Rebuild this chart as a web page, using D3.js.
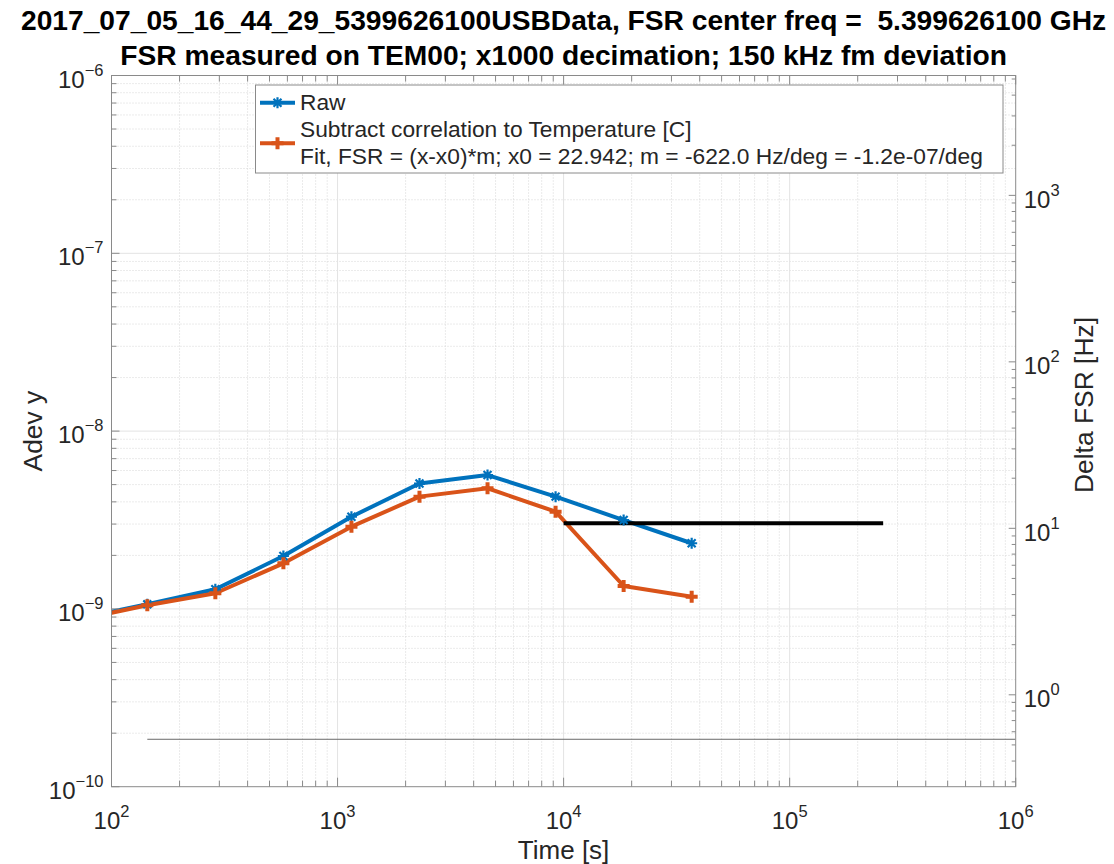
<!DOCTYPE html>
<html><head><meta charset="utf-8">
<script src="https://cdn.jsdelivr.net/npm/d3@7/dist/d3.min.js"></script>
<style>
html,body{margin:0;padding:0;background:#fff;}
svg{display:block;font-family:"Liberation Sans",Arial,Helvetica,sans-serif;}
text{white-space:pre;}
</style></head>
<body><svg id="c" width="1114" height="864"></svg>
<script>
// ---- data ----
const tau = [72, 144, 288, 576, 1152, 2304, 4608, 9216, 18432, 36864];
const rawAdev = [8.83e-10, 1.061e-9, 1.289e-9, 1.984e-9, 3.30e-9, 5.07e-9, 5.66e-9, 4.28e-9, 3.16e-9, 2.34e-9];
const corrAdev = [8.71e-10, 1.048e-9, 1.224e-9, 1.805e-9, 2.90e-9, 4.28e-9, 4.77e-9, 3.52e-9, 1.345e-9, 1.171e-9];
const specX = [1e4, 2.592e5];
const specY = [3.03e-9, 3.03e-9];
const floorX = [144, 1e6];
const floorY = [1.848e-10, 1.848e-10];
const xTickExp = [2, 3, 4, 5, 6];
const yTickExp = [-10, -9, -8, -7, -6];
const yRTickExp = [0, 1, 2, 3];
const titleLines = ["2017_07_05_16_44_29_5399626100USBData, FSR center freq =  5.399626100 GHz",
                    "FSR measured on TEM00; x1000 decimation; 150 kHz fm deviation"];
const legendLabels = ["Raw", "Subtract correlation to Temperature [C]",
                      "Fit, FSR = (x-x0)*m; x0 = 22.942; m = -622.0 Hz/deg = -1.2e-07/deg"];

// ---- layout ----
const L = 111.5, R = 1015.7, T = 75.5, B = 786.7;
const svg = d3.select("#c");
const x = d3.scaleLog().domain([1e2, 1e6]).range([L, R]);
const y = d3.scaleLog().domain([1e-10, 1e-6]).range([B, T]);
const yR = d3.scaleLog().domain([Math.pow(10, -0.552), Math.pow(10, 3.72)]).range([B, T]);
const blue = "#0072BD", orange = "#D95319", axisCol = "#8a8a8a", txt = "#262626";

function minors(lo, hi) {
  const out = [];
  for (let e = Math.floor(Math.log10(lo)) - 1; e <= Math.ceil(Math.log10(hi)); e++)
    for (let m = 2; m <= 9; m++) { const v = m * Math.pow(10, e); if (v > lo * 1.0001 && v < hi * 0.9999) out.push(v); }
  return out;
}
const xMin = minors(1e2, 1e6), yMin = minors(1e-10, 1e-6), yRMin = minors(yR.domain()[0], yR.domain()[1]);
const xMaj = xTickExp.map(e => Math.pow(10, e)), yMaj = yTickExp.map(e => Math.pow(10, e));
const yRMaj = yRTickExp.map(e => Math.pow(10, e));

// grid
const g = svg.append("g");
g.selectAll(".xm").data(xMin).join("line").attr("x1", d => x(d)).attr("x2", d => x(d)).attr("y1", T).attr("y2", B)
  .attr("stroke", "#d6d6d6").attr("stroke-width", 1).attr("stroke-dasharray", "1,2");
g.selectAll(".ym").data(yMin).join("line").attr("y1", d => y(d)).attr("y2", d => y(d)).attr("x1", L).attr("x2", R)
  .attr("stroke", "#d6d6d6").attr("stroke-width", 1).attr("stroke-dasharray", "1,2");
g.selectAll(".xM").data(xMaj.slice(1, -1)).join("line").attr("x1", d => x(d)).attr("x2", d => x(d)).attr("y1", T).attr("y2", B)
  .attr("stroke", "#e3e3e3").attr("stroke-width", 1);
g.selectAll(".yM").data(yMaj.slice(1, -1)).join("line").attr("y1", d => y(d)).attr("y2", d => y(d)).attr("x1", L).attr("x2", R)
  .attr("stroke", "#e3e3e3").attr("stroke-width", 1);

// clip
svg.append("clipPath").attr("id", "clip").append("rect").attr("x", L).attr("y", T).attr("width", R - L).attr("height", B - T);
const plot = svg.append("g").attr("clip-path", "url(#clip)");
const line = d3.line().x(d => x(d[0])).y(d => y(d[1]));

plot.append("path").datum(d3.zip(floorX, floorY)).attr("d", line).attr("fill", "none").attr("stroke", "#6a6a6a").attr("stroke-width", 1);
plot.append("path").datum(d3.zip(tau, rawAdev)).attr("d", line).attr("fill", "none").attr("stroke", blue).attr("stroke-width", 4).attr("stroke-linejoin", "round");
plot.append("path").datum(d3.zip(tau, corrAdev)).attr("d", line).attr("fill", "none").attr("stroke", orange).attr("stroke-width", 4).attr("stroke-linejoin", "round");
plot.append("path").datum(d3.zip(specX, specY)).attr("d", line).attr("fill", "none").attr("stroke", "#000").attr("stroke-width", 4);

function star(s) { const h = s / 2, d = h * 0.72; return `M${-h},0H${h}M0,${-h}V${h}M${-d},${-d}L${d},${d}M${-d},${d}L${d},${-d}`; }
function plus(s) { const h = s / 2; return `M${-h},0H${h}M0,${-h}V${h}`; }
plot.selectAll(".mb").data(d3.zip(tau, rawAdev)).join("path").attr("transform", d => `translate(${x(d[0])},${y(d[1])})`)
  .attr("d", star(11)).attr("stroke", blue).attr("stroke-width", 2.2).attr("fill", "none");
plot.selectAll(".mo").data(d3.zip(tau, corrAdev)).join("path").attr("transform", d => `translate(${x(d[0])},${y(d[1])})`)
  .attr("d", plus(12)).attr("stroke", orange).attr("stroke-width", 4).attr("fill", "none");

// axes box & ticks
const ax = svg.append("g").attr("stroke", axisCol).attr("stroke-width", 1).attr("fill", "none");
ax.append("rect").attr("x", L).attr("y", T).attr("width", R - L).attr("height", B - T);
function tickX(vals, len) {
  ax.selectAll(null).data(vals).join("line").attr("x1", d => x(d)).attr("x2", d => x(d)).attr("y1", B).attr("y2", B - len);
  ax.selectAll(null).data(vals).join("line").attr("x1", d => x(d)).attr("x2", d => x(d)).attr("y1", T).attr("y2", T + len);
}
tickX(xMaj, 9); tickX(xMin, 6);
ax.selectAll(null).data(yMaj).join("line").attr("y1", d => y(d)).attr("y2", d => y(d)).attr("x1", L).attr("x2", L + 8);
ax.selectAll(null).data(yMin).join("line").attr("y1", d => y(d)).attr("y2", d => y(d)).attr("x1", L).attr("x2", L + 5);
ax.selectAll(null).data(yRMaj).join("line").attr("y1", d => yR(d)).attr("y2", d => yR(d)).attr("x1", R).attr("x2", R - 7);
ax.selectAll(null).data(yRMin).join("line").attr("y1", d => yR(d)).attr("y2", d => yR(d)).attr("x1", R).attr("x2", R - 4);

// tick labels
function powLabel(sel, e) {
  sel.append("tspan").attr("font-size", 24).text("10");
  sel.append("tspan").attr("font-size", 16.5).attr("dy", -12).text(String(e).replace("-", "\u2212"));
}
const tl = svg.append("g").attr("fill", txt);
xTickExp.forEach(e => { const t = tl.append("text").attr("x", x(Math.pow(10, e))).attr("y", 829).attr("text-anchor", "middle"); powLabel(t, e); });
yTickExp.forEach(e => { const t = tl.append("text").attr("x", L - 8).attr("y", y(Math.pow(10, e)) + 12).attr("text-anchor", "end"); powLabel(t, e); });
yRTickExp.forEach(e => { const t = tl.append("text").attr("x", R + 8).attr("y", yR(Math.pow(10, e)) + 12.5).attr("text-anchor", "start"); powLabel(t, e); });

// axis labels
tl.append("text").attr("x", (L + R) / 2).attr("y", 859).attr("text-anchor", "middle").attr("font-size", 26).text("Time [s]");
tl.append("text").attr("transform", `translate(42,${(T + B) / 2}) rotate(-90)`).attr("text-anchor", "middle").attr("font-size", 26.4).text("Adev y");
tl.append("text").attr("transform", `translate(1093,405) rotate(-90)`).attr("text-anchor", "middle").attr("font-size", 26.4).text("Delta FSR [Hz]");

// title
const t1 = svg.append("text").attr("x", (L + R) / 2).attr("y", 30).attr("text-anchor", "middle").attr("font-weight", "bold").attr("font-size", 28).attr("fill", "#000").text(titleLines[0]);
let fs = 28 * 1086 / t1.node().getComputedTextLength();
t1.attr("font-size", fs);
svg.append("text").attr("x", (L + R) / 2).attr("y", 65).attr("text-anchor", "middle").attr("font-weight", "bold").attr("font-size", fs).attr("fill", "#000").text(titleLines[1]);

// legend
const lg = svg.append("g");
lg.append("rect").attr("x", 255.5).attr("y", 85).attr("width", 1003 - 255.5).attr("height", 173 - 85).attr("fill", "#fff").attr("stroke", "#8a8a8a").attr("stroke-width", 1);
const ly = [110, 137.3, 164];
const lt = legendLabels.map((s, i) => lg.append("text").attr("x", 300).attr("y", ly[i]).attr("font-size", 22).attr("fill", txt).text(s));
const lfs = 22 * 683 / lt[2].node().getComputedTextLength();
lt.forEach(t => t.attr("font-size", lfs));
lg.append("line").attr("x1", 260).attr("x2", 295).attr("y1", 102.7).attr("y2", 102.7).attr("stroke", blue).attr("stroke-width", 4);
lg.append("path").attr("transform", "translate(277.5,102.7)").attr("d", star(11)).attr("stroke", blue).attr("stroke-width", 2.2).attr("fill", "none");
lg.append("line").attr("x1", 260).attr("x2", 295).attr("y1", 143.3).attr("y2", 143.3).attr("stroke", orange).attr("stroke-width", 4);
lg.append("path").attr("transform", "translate(277.5,143.3)").attr("d", plus(12)).attr("stroke", orange).attr("stroke-width", 4).attr("fill", "none");
</script></body></html>
